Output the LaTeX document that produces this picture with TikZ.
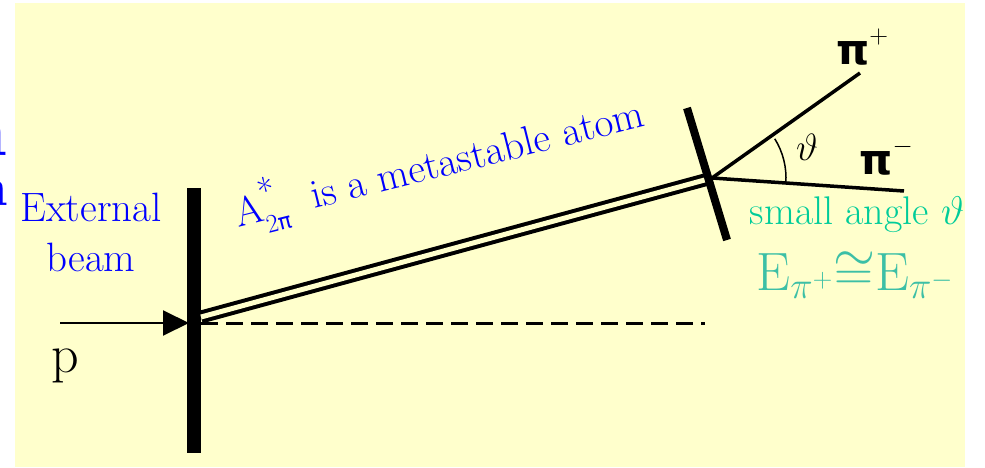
\RequirePackage{fix-cm}
\documentclass[tikz,border=0pt]{standalone}
\usepackage{fontspec}
\newfontfamily\greekfam{DejaVu Sans}
\usetikzlibrary{arrows.meta}
\definecolor{dbpaper}{HTML}{FFFFCC}
\definecolor{dbblue}{HTML}{0000FF}
\definecolor{dbmint}{HTML}{00CC99}
\definecolor{dbteal}{HTML}{3CBFA6}
\newcommand{\fsz}[1]{\fontsize{#1}{#1}\selectfont}

\begin{document}
\begin{tikzpicture}[x=1pt,y=1pt,
  thicktgt/.style={line width=14pt},
  thintgt/.style={line width=8pt},
  pionline/.style={line width=3.5pt},
  bluetext/.style={text=dbblue,inner sep=0pt,font=\fontsize{41}{50}\selectfont},
  pionlabel/.style={inner sep=0pt,font=\fsz{42}\greekfam\bfseries}]
\useasboundingbox (0,0) rectangle (985,467);
\fill[dbpaper] (15,0) rectangle (965,464);
% cut-off letters at the left edge
\node[text=dbblue,inner sep=0pt,anchor=base east,font=\fsz{74}\bfseries] (cutA) at (8,312) {n};
\node[text=dbblue,inner sep=0pt,anchor=base east,font=\fsz{54}\bfseries] (cutB) at (8,262) {n};

% geometry
\coordinate (pstart) at (60,144);
\coordinate (hit) at (189,144);
\coordinate (dashstart) at (201,144);
\coordinate (dashend) at (705,144);
\coordinate (atomstart) at (201,150);
\coordinate (vtx) at (712,289);
\coordinate (tgtAtop) at (194,279);
\coordinate (tgtAbot) at (194,14);
\coordinate (tgtBtop) at (687,359);
\coordinate (tgtBbot) at (727,227);
\coordinate (pipend) at (860,394);
\coordinate (pimend) at (904,276);

% beam, targets and tracks
\draw[line width=2pt,-{Triangle[length=26pt,width=25pt]}] (pstart) -- (hit);
\draw[thicktgt] (tgtAtop) -- (tgtAbot);
\draw[line width=3pt,dash pattern=on 17pt off 8pt] (dashstart) -- (dashend);
\draw[line width=4pt,double=dbpaper,double distance=5pt] (atomstart) -- (vtx);
\draw[thintgt] (tgtBtop) -- (tgtBbot);
\draw[pionline] (vtx) -- (pipend);
\draw[pionline] (vtx) -- (pimend);
\draw[line width=1.5pt] ([shift={(-4:74pt)}]vtx) arc[start angle=-4,end angle=32,radius=74pt];

% labels
\node[inner sep=0pt,font=\fsz{38}] (theta) at (807,320) {$\vartheta$};
\node[pionlabel] (pip) at (862,420) {π\raisebox{0.5em}{\mdseries\fsz{26}$+$}};
\node[pionlabel] (pim) at (886,310) {π\raisebox{0.5em}{\mdseries\fsz{26}$-$}};
\node[bluetext,align=center] (extbeam) at (91,235) {External\\beam};
\node[inner sep=0pt,anchor=base,font=\fsz{54}] (plabel) at (65,95) {p};
\node[bluetext,anchor=base west,rotate=14] (atom) at (238,239)
  {A\rlap{\raisebox{0.4em}{\fsz{36}*}}\raisebox{-0.3em}{\fsz{26}2{\greekfam\fsz{22}π}}\ \ is a metastable atom};
\node[text=dbmint,inner sep=0pt,font=\fsz{40}] (small) at (857,252) {small angle $\vartheta$};
\node[text=dbteal,inner sep=0pt,anchor=base,font=\fsz{54}] (energy) at (855,177)
  {$\mathrm{E}_{\pi^{+}}{\cong}\mathrm{E}_{\pi^{-}}$};
\end{tikzpicture}
\end{document}
